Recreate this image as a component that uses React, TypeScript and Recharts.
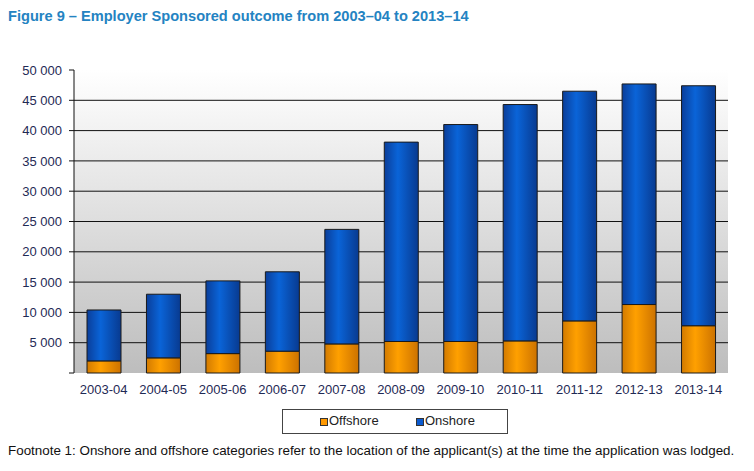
import React from 'react';
import {
  BarChart,
  Bar,
  XAxis,
  YAxis,
  CartesianGrid,
} from 'recharts';

const years = [
  '2003-04', '2004-05', '2005-06', '2006-07', '2007-08', '2008-09',
  '2009-10', '2010-11', '2011-12', '2012-13', '2013-14',
];
const offshore = [2000, 2500, 3200, 3600, 4800, 5200, 5200, 5300, 8600, 11300, 7800];
const onshore = [8400, 10500, 12000, 13100, 18900, 32900, 35800, 39000, 37900, 36400, 39600];
const yTicks = [0, 5000, 10000, 15000, 20000, 25000, 30000, 35000, 40000, 45000, 50000];
const edgeTicks = [0, 1, 2, 3, 4, 5, 6, 7, 8, 9, 10, 11];

const data = years.map((year, i) => ({ year, offshore: offshore[i], onshore: onshore[i] }));

const font = '"Liberation Sans", Arial, sans-serif';
const labelColor = '#1f2a55';

const fmt = (v: number) => (v === 0 ? '' : v.toLocaleString('en-US').replace(/,/g, ' '));

const EmptyTick = () => <g />;

export default function App() {
  return (
    <div
      style={{
        position: 'absolute',
        left: 0,
        top: 0,
        width: 754,
        height: 471,
        background: '#fff',
        fontFamily: font,
      }}
    >
      <div
        style={{
          position: 'absolute',
          left: 8,
          top: 8,
          fontSize: 14.6,
          fontWeight: 'bold',
          color: '#2483c2',
        }}
      >
        Figure 9 – Employer Sponsored outcome from 2003–04 to 2013–14
      </div>

      <div style={{ position: 'absolute', left: 0, top: 0 }}>
        <BarChart
          width={754}
          height={405}
          data={data}
          margin={{ top: 70, right: 26, bottom: 2, left: 0 }}
          barSize={34}
        >
          <defs>
            <linearGradient id="bgGrad" x1="0" y1="0" x2="0" y2="1">
              <stop offset="0%" stopColor="#ffffff" />
              <stop offset="100%" stopColor="#bdbdbd" />
            </linearGradient>
            <linearGradient id="blueGrad" x1="0" y1="0" x2="1" y2="0">
              <stop offset="0%" stopColor="#0a3e9a" />
              <stop offset="40%" stopColor="#0a64d8" />
              <stop offset="100%" stopColor="#083a90" />
            </linearGradient>
            <linearGradient id="orangeGrad" x1="0" y1="0" x2="1" y2="0">
              <stop offset="0%" stopColor="#d27a00" />
              <stop offset="40%" stopColor="#ffa000" />
              <stop offset="100%" stopColor="#cc7200" />
            </linearGradient>
          </defs>
          <CartesianGrid
            vertical={false}
            stroke="#111"
            fill="url(#bgGrad)"
            horizontalValues={[5000, 10000, 15000, 20000, 25000, 30000, 35000, 40000, 45000]}
          />
          <XAxis
            xAxisId="edge"
            type="number"
            dataKey={() => 0}
            domain={[0, 11]}
            ticks={edgeTicks}
            tick={EmptyTick}
            height={0}
            tickSize={5}
            stroke="#111"
            allowDataOverflow
          />
          <XAxis
            dataKey="year"
            height={30}
            axisLine={false}
            tickLine={false}
            tickSize={5}
            tickMargin={7}
            interval={0}
            tick={{ fill: labelColor, fontSize: 13, fontFamily: font }}
          />
          <XAxis
            xAxisId="top"
            orientation="top"
            dataKey="year"
            height={0}
            tick={false}
            tickLine={false}
            stroke="#9a9a9a"
          />
          <YAxis
            width={74}
            domain={[0, 50000]}
            ticks={yTicks}
            tickFormatter={fmt}
            tickSize={5}
            tickMargin={7}
            stroke="#111"
            interval={0}
            tick={{ fill: labelColor, fontSize: 13, fontFamily: font }}
          />
          <YAxis
            yAxisId="right"
            orientation="right"
            width={0}
            tick={false}
            tickLine={false}
            stroke="#9a9a9a"
          />
          <Bar
            dataKey="offshore"
            stackId="a"
            fill="url(#orangeGrad)"
            stroke="#1a1a1a"
            strokeWidth={1}
            isAnimationActive={false}
          />
          <Bar
            dataKey="onshore"
            stackId="a"
            fill="url(#blueGrad)"
            stroke="#1a1a1a"
            strokeWidth={1}
            isAnimationActive={false}
          />
        </BarChart>
      </div>

      <div
        style={{
          position: 'absolute',
          left: 282,
          top: 409,
          width: 224,
          height: 23,
          border: '1.5px solid #444',
          fontSize: 13,
          color: '#222',
        }}
      >
        <span style={{ position: 'absolute', left: 37, top: 8, width: 6, height: 6, background: '#ff9900', border: '1px solid #333' }} />
        <span style={{ position: 'absolute', left: 46, top: 3 }}>Offshore</span>
        <span style={{ position: 'absolute', left: 133, top: 8, width: 6, height: 6, background: '#0a5ad0', border: '1px solid #333' }} />
        <span style={{ position: 'absolute', left: 142, top: 3 }}>Onshore</span>
      </div>

      <div
        style={{
          position: 'absolute',
          left: 8,
          top: 443,
          fontSize: 13.4,
          color: '#111',
          whiteSpace: 'nowrap',
        }}
      >
        Footnote 1: Onshore and offshore categories refer to the location of the applicant(s) at the time the application was lodged.
      </div>
    </div>
  );
}
